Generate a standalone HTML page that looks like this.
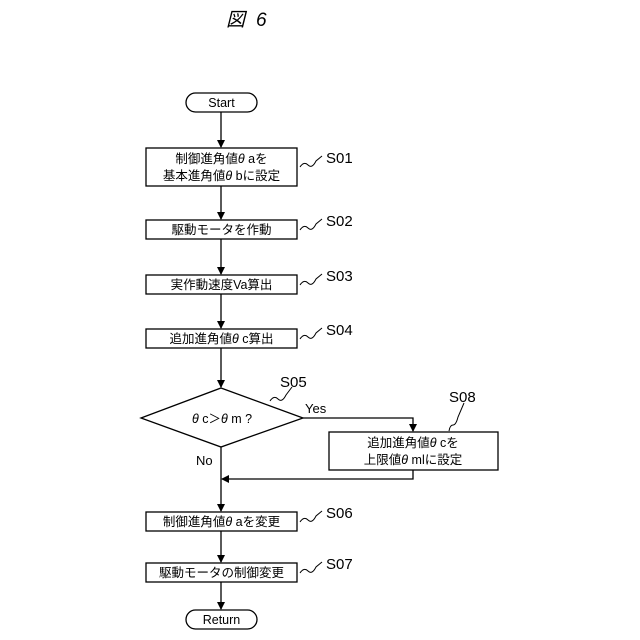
<!DOCTYPE html>
<html><head><meta charset="utf-8"><style>
html,body{margin:0;padding:0;background:#fff;}
svg{display:block;}
text{font-family:"Liberation Sans","Noto Sans CJK JP",sans-serif;fill:#000;}
.b{font-size:12.5px;text-anchor:middle;}
.l{font-size:15px;}
</style></head><body>
<svg width="640" height="640" viewBox="0 0 640 640" xmlns="http://www.w3.org/2000/svg">
<defs><marker id="a" markerWidth="8" markerHeight="8" refX="7" refY="4" orient="auto" markerUnits="userSpaceOnUse"><path d="M0,0 L8,4 L0,8 z" fill="#000"/></marker></defs>
<text x="226" y="26" style="font-size:19px;font-style:italic" font-family="Noto Sans CJK JP">図</text>
<text x="256" y="26" style="font-size:19px;font-style:italic">6</text>
<g stroke="#000" stroke-width="1.3" fill="none">
<rect x="186" y="93" width="71" height="19" rx="9.5"/>
<rect x="146" y="148" width="151" height="38"/>
<rect x="146" y="220" width="151" height="19"/>
<rect x="146" y="275" width="151" height="19"/>
<rect x="146" y="329" width="151" height="19"/>
<path d="M221,388 L303,418 L221,447 L141,418 Z"/>
<rect x="329" y="432" width="169" height="38"/>
<rect x="146" y="512" width="151" height="19"/>
<rect x="146" y="563" width="151" height="19"/>
<rect x="186" y="610" width="71" height="19" rx="9.5"/>
<g marker-end="url(#a)">
<line x1="221" y1="112" x2="221" y2="147"/>
<line x1="221" y1="186" x2="221" y2="219"/>
<line x1="221" y1="239" x2="221" y2="274"/>
<line x1="221" y1="294" x2="221" y2="328"/>
<line x1="221" y1="348" x2="221" y2="387"/>
<polyline points="303,418 413,418 413,431"/>
<polyline points="413,470 413,479 222,479"/>
<line x1="221" y1="447" x2="221" y2="511"/>
<line x1="221" y1="531" x2="221" y2="562"/>
<line x1="221" y1="582" x2="221" y2="609"/>
</g>
<g stroke-width="1">
<path d="M300,167 q4,-6 8,-2 t8,-4 l6,-5"/>
<path d="M300,230 q4,-6 8,-2 t8,-4 l6,-5"/>
<path d="M300,285 q4,-6 8,-2 t8,-4 l6,-5"/>
<path d="M300,339 q4,-6 8,-2 t8,-4 l6,-5"/>
<path d="M270,401 q4,-6 8,-2 t8,-4 l6,-8"/>
<path d="M449,431 q1,-6 4,-6 t5,-8 l6,-14"/>
<path d="M300,522 q4,-6 8,-2 t8,-4 l6,-5"/>
<path d="M300,573 q4,-6 8,-2 t8,-4 l6,-5"/>
</g>
</g>
<text class="b" x="221.5" y="107">Start</text>
<text class="b" x="221.5" y="163">制御進角値<tspan font-style="italic">θ</tspan> aを</text>
<text class="b" x="221.5" y="180">基本進角値<tspan font-style="italic">θ</tspan> bに設定</text>
<text class="b" x="221.5" y="234">駆動モータを作動</text>
<text class="b" x="221.5" y="289">実作動速度Va算出</text>
<text class="b" x="221.5" y="343">追加進角値<tspan font-style="italic">θ</tspan> c算出</text>
<text class="b" x="222" y="423"><tspan font-style="italic">θ</tspan> c＞<tspan font-style="italic">θ</tspan> m ?</text>
<text class="b" x="413" y="447">追加進角値<tspan font-style="italic">θ</tspan> cを</text>
<text class="b" x="413" y="464">上限値<tspan font-style="italic">θ</tspan> mlに設定</text>
<text class="b" x="221.5" y="526">制御進角値<tspan font-style="italic">θ</tspan> aを変更</text>
<text class="b" x="221.5" y="577">駆動モータの制御変更</text>
<text class="b" x="221.5" y="624">Return</text>
<text x="305" y="413" style="font-size:13px">Yes</text>
<text x="196" y="465" style="font-size:13px">No</text>
<text class="l" x="326" y="163">S01</text>
<text class="l" x="326" y="226">S02</text>
<text class="l" x="326" y="281">S03</text>
<text class="l" x="326" y="335">S04</text>
<text class="l" x="280" y="387">S05</text>
<text class="l" x="449" y="402">S08</text>
<text class="l" x="326" y="518">S06</text>
<text class="l" x="326" y="569">S07</text>
</svg>
</body></html>
